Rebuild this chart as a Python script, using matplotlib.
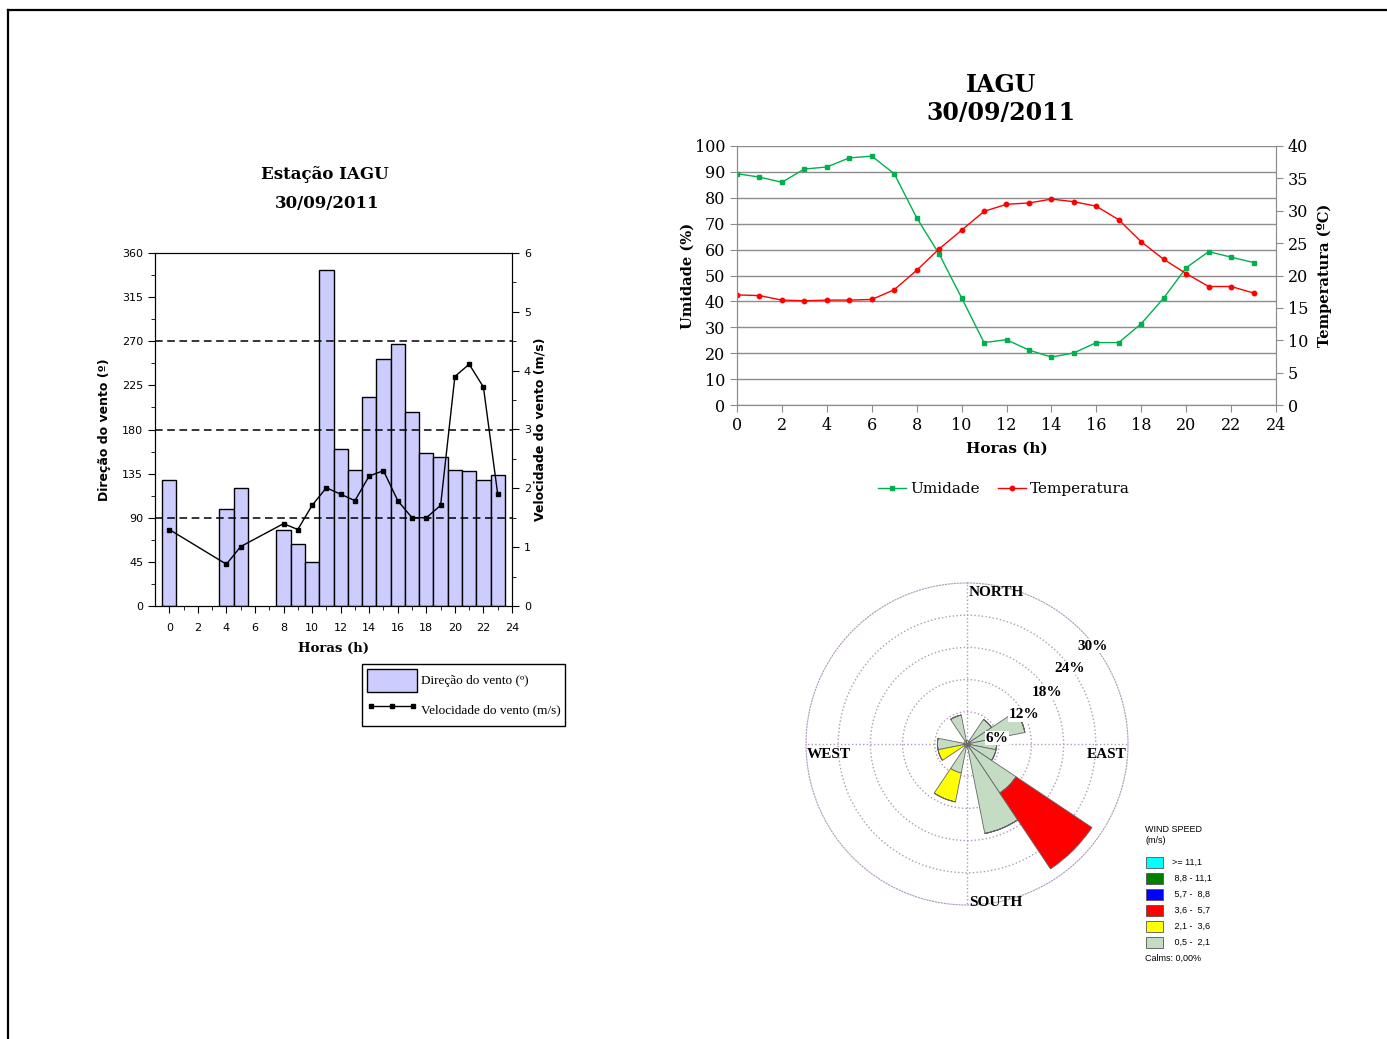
import numpy as np
import matplotlib
matplotlib.use("Agg")
from matplotlib import pyplot as plt
from matplotlib.lines import Line2D
from matplotlib.patches import Patch, Rectangle

# ---- data: left chart (wind direction / speed per hour) ----
hours = list(range(24))
nan = np.nan
wind_dir = [129, nan, nan, nan, 99, 120, nan, nan, 78, 63, 45, 343,
            160, 139, 213, 252, 267, 198, 156, 151.5, 139, 138, 128, 134]
wind_spd = [1.30, nan, nan, nan, 0.71, 1.01, nan, nan, 1.40, 1.30, 1.71, 2.01,
            1.90, 1.79, 2.21, 2.30, 1.79, 1.50, 1.50, 1.71, 3.90, 4.11, 3.72, 1.90]

# ---- data: right chart (humidity / temperature) ----
umidade = [89.3, 88, 86, 91.1, 91.9, 95.4, 96.1, 89.3, 72.3, 58.3, 41.4, 24.1,
           25.2, 21.2, 18.5, 20.1, 24.1, 24.1, 31.4, 41.3, 53, 59.2, 57.1, 55]
temperatura = [17.0, 16.9, 16.2, 16.1, 16.2, 16.2, 16.3, 17.8, 20.8, 24.1, 27.0, 29.9,
               31.0, 31.2, 31.8, 31.4, 30.7, 28.6, 25.2, 22.5, 20.3, 18.3, 18.3, 17.3]

# ---- data: wind rose (% per sector, 16 sectors from N clockwise) ----
sectors = np.arange(16) * 22.5
rose_05_21 = [0, 0, 5.5, 11, 5.5, 5.5, 11, 17, 0, 5.5, 0, 0, 5.5, 0, 0, 5.5]
rose_21_36 = [0, 0, 0, 0, 0, 0, 0, 0, 0, 5.5, 0, 5.5, 0, 0, 0, 0]
rose_36_57 = [0, 0, 0, 0, 0, 0, 17, 0, 0, 0, 0, 0, 0, 0, 0, 0]
rose_rings = [6, 12, 18, 24, 30]
speed_classes = [">= 11,1", " 8,8 - 11,1", " 5,7 -  8,8", " 3,6 -  5,7", " 2,1 -  3,6", " 0,5 -  2,1"]
speed_colors = ["#00ffff", "#008000", "#0000ff", "#ff0000", "#ffff00", "#c3dcc3"]

W, H = 1387, 1039
fig = plt.figure(figsize=(W / 100, H / 100), dpi=100)


def fx(px):
    return px / W


def fy(py):
    return 1 - py / H


# page frame
fig.add_artist(Line2D([fx(8), 1], [fy(10), fy(10)], color="black", lw=1.6))
fig.add_artist(Line2D([fx(8), fx(8)], [0, fy(10)], color="black", lw=1.6))

# ================= left chart =================
ax1 = fig.add_axes([fx(155), fy(606), fx(512) - fx(155), fy(253) - fy(606)])
ax1.bar(hours, wind_dir, width=1.0, color="#ccccff", edgecolor="black", lw=1.0, zorder=2)
for lvl in [90, 180, 270]:
    ax1.axhline(lvl, color="black", ls=(0, (5, 3)), lw=1.1, zorder=3)
ax1.set_xlim(-1, 24)
ax1.set_ylim(0, 360)
ax1.set_xticks(range(0, 25, 2))
ax1.set_xticks(range(0, 25), minor=True)
ax1.set_yticks(range(0, 361, 45))
ax1.set_yticks(np.arange(0, 361, 22.5), minor=True)
ax1.tick_params(labelsize=8, direction="out", length=5)
ax1.tick_params(axis="x", pad=7)
ax1.tick_params(which="minor", length=3)
ax1.set_xlabel("Horas (h)", family="DejaVu Serif", fontweight="bold", fontsize=9.5, labelpad=7)
ax1.set_ylabel("Direção do vento (º)", fontweight="bold", fontsize=9, labelpad=8)
fig.text(fx(325), fy(175), "Estação IAGU", family="DejaVu Serif", fontweight="bold",
         fontsize=12, ha="center", va="center")
fig.text(fx(327), fy(204), "30/09/2011", family="DejaVu Serif", fontweight="bold",
         fontsize=12, ha="center", va="center")

ax1b = ax1.twinx()
sh = [h for h, s in zip(hours, wind_spd) if not np.isnan(s)]
sv = [s for s in wind_spd if not np.isnan(s)]
ax1b.plot(sh, sv, color="black", lw=1.0, marker="s", ms=3.5, zorder=4)
ax1b.set_ylim(0, 6)
ax1b.set_yticks(range(0, 7))
ax1b.set_yticks(np.arange(0, 6.01, 0.5), minor=True)
ax1b.tick_params(labelsize=8, direction="out", length=5)
ax1b.tick_params(which="minor", length=3)
ax1b.set_ylabel("Velocidade do vento (m/s)", fontweight="bold", fontsize=9, labelpad=2)

leg1 = fig.legend(
    handles=[Patch(facecolor="#ccccff", edgecolor="black", lw=1.0),
             Line2D([], [], color="black", lw=1.0, marker="s", ms=3.5)],
    labels=["Direção do vento (º)", "Velocidade do vento (m/s)"],
    loc="upper left", bbox_to_anchor=(fx(362), fy(664)), fancybox=False,
    edgecolor="black", framealpha=1, numpoints=3, handlelength=3.8, handleheight=2.3,
    prop={"family": "Liberation Serif", "size": 9.5}, borderpad=0.35, labelspacing=0.5,
    handletextpad=0.3, borderaxespad=0)
leg1.get_frame().set_linewidth(1.0)

# ================= right top chart =================
ax2 = fig.add_axes([fx(737), fy(405), fx(1276) - fx(737), fy(146) - fy(405)])
ax2.plot(hours, umidade, color="#00b050", lw=1.0, marker="s", ms=3.2, label="Umidade")
ax2.set_xlim(0, 24)
ax2.set_ylim(0, 100)
ax2.set_xticks(range(0, 25, 2))
ax2.set_yticks(range(0, 101, 10))
ax2.grid(axis="y", color="#8c8c8c", lw=1.0)
ax2.set_axisbelow(True)
ax2.spines["top"].set_visible(False)
for s in ["left", "right", "bottom"]:
    ax2.spines[s].set_color("#8c8c8c")
ax2.tick_params(labelsize=11.5, direction="out", length=5, color="#8c8c8c")
for lab in ax2.get_xticklabels() + ax2.get_yticklabels():
    lab.set_family("DejaVu Serif")
ax2.set_xlabel("Horas (h)", family="DejaVu Serif", fontweight="bold", fontsize=11, labelpad=6)
ax2.set_ylabel("Umidade (%)", family="DejaVu Serif", fontweight="bold", fontsize=10.5, labelpad=0)
fig.text(fx(1001), fy(85), "IAGU", family="DejaVu Serif", fontweight="bold", fontsize=17,
         ha="center", va="center")
fig.text(fx(1001), fy(113), "30/09/2011", family="DejaVu Serif", fontweight="bold", fontsize=17,
         ha="center", va="center")

ax2b = ax2.twinx()
ax2b.plot(hours, temperatura, color="#ff0000", lw=1.0, marker="o", ms=3.2, label="Temperatura")
ax2b.set_ylim(0, 40)
ax2b.set_yticks(range(0, 41, 5))
ax2b.spines["top"].set_visible(False)
for s in ["left", "right", "bottom"]:
    ax2b.spines[s].set_color("#8c8c8c")
ax2b.tick_params(labelsize=11.5, direction="out", length=5, color="#8c8c8c")
for lab in ax2b.get_yticklabels():
    lab.set_family("DejaVu Serif")
ax2b.set_ylabel("Temperatura (ºC)", family="DejaVu Serif", fontweight="bold", fontsize=10.5,
                labelpad=6)

h1, l1 = ax2.get_legend_handles_labels()
h2, l2 = ax2b.get_legend_handles_labels()
fig.legend(h1 + h2, l1 + l2, loc="center", bbox_to_anchor=(fx(1004), fy(489)), ncol=2,
           frameon=False, prop={"family": "DejaVu Serif", "size": 11}, handlelength=1.8,
           handletextpad=0.3, columnspacing=1.2)

# ================= wind rose =================
cx, cy, rr = 967, 744, 161
ax3 = fig.add_axes([fx(cx - rr), fy(cy + rr), fx(2 * rr), fy(cy - rr) - fy(cy + rr)],
                   projection="polar")
ax3.set_theta_zero_location("N")
ax3.set_theta_direction(-1)
theta = np.deg2rad(sectors)
wid = np.deg2rad(22.5)
g = np.array(rose_05_21)
y = np.array(rose_21_36)
r = np.array(rose_36_57)
ax3.bar(theta, g, width=wid, color="#c3dcc3", edgecolor="#666666", lw=0.6, zorder=2)
ax3.bar(theta, y, bottom=g, width=wid, color="#ffff00", edgecolor="#666666", lw=0.6, zorder=2)
ax3.bar(theta, r, bottom=g + y, width=wid, color="#ff0000", edgecolor="#666666", lw=0.6, zorder=2)
ax3.set_ylim(0, 30)
ax3.set_rgrids(rose_rings[:-1], labels=[""] * 4)
ax3.set_thetagrids([0, 90, 180, 270], labels=[""] * 4)
ax3.grid(color="#b09ab8", ls=":", lw=1.0)
ax3.spines["polar"].set_color("#b09ab8")
ax3.spines["polar"].set_linestyle(":")
ax3.set_axisbelow(True)
ax3.plot(np.linspace(0, 2 * np.pi, 60), np.full(60, 0.6), color="#666666", lw=0.6, zorder=3)

rose_font = {"family": "Liberation Serif", "fontweight": "bold", "fontsize": 11}
fig.text(fx(969), fy(592), "NORTH", ha="left", va="center", **rose_font)
fig.text(fx(969), fy(903), "SOUTH", ha="left", va="center", **rose_font)
fig.text(fx(807), fy(755), "WEST", ha="left", va="center", **rose_font)
fig.text(fx(1127), fy(755), "EAST", ha="right", va="center", **rose_font)
pct_pos = [(997, 738), (1024, 715), (1047, 692), (1070, 668), (1093, 646)]
for ring, (px, py) in zip(rose_rings, pct_pos):
    fig.text(fx(px), fy(py), f"{ring}%", ha="center", va="center", zorder=5,
             bbox=dict(facecolor="white", edgecolor="none", pad=0.5), **rose_font)

# rose legend
fig.text(fx(1145), fy(835), "WIND SPEED\n(m/s)", ha="left", va="center", fontsize=6.5,
         family="Liberation Sans", linespacing=1.25)
for i, (lab, col) in enumerate(zip(speed_classes, speed_colors)):
    yc = 862 + 16 * i
    fig.add_artist(Rectangle((fx(1146), fy(yc + 5.5)), fx(17), 11 / H, transform=fig.transFigure,
                             facecolor=col, edgecolor="#555555", lw=0.6))
    fig.text(fx(1172), fy(yc), lab, ha="left", va="center", fontsize=6.5, family="Liberation Sans")
fig.text(fx(1145), fy(958), "Calms: 0,00%", ha="left", va="center", fontsize=6.5,
         family="Liberation Sans")

fig.savefig("out.png", dpi=100)
